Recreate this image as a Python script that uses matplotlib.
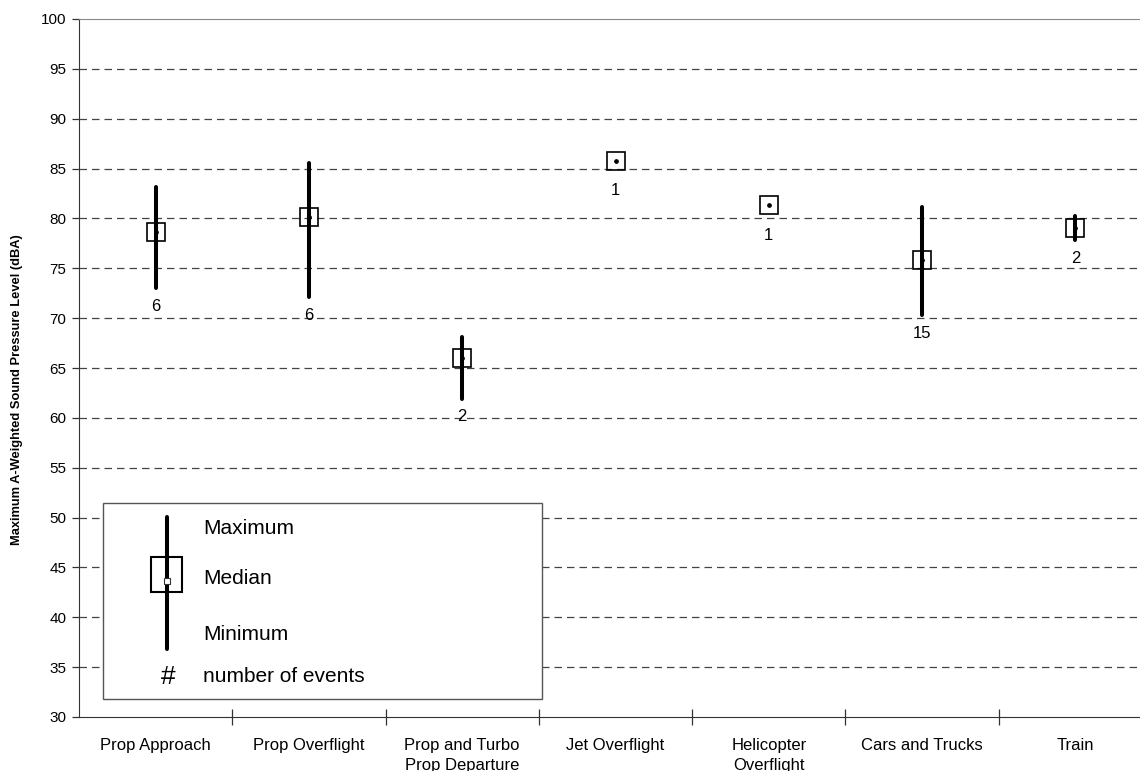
import matplotlib
matplotlib.use("Agg")
import matplotlib.pyplot as plt
from matplotlib.patches import Rectangle
from matplotlib.lines import Line2D

plt.rcParams['font.family'] = ['Liberation Sans', 'DejaVu Sans']

# Noise sources and their maximum A-weighted levels (dBA)
categories = ["Prop Approach", "Prop Overflight", "Prop and Turbo\nProp Departure",
              "Jet Overflight", "Helicopter\nOverflight", "Cars and Trucks", "Train"]
level_max = [83.2, 85.6, 68.1, 85.8, 81.3, 81.1, 80.2]
level_median = [78.6, 80.1, 66.0, 85.8, 81.3, 75.8, 79.0]
level_min = [73.0, 72.1, 61.9, 85.8, 81.3, 70.3, 77.8]
event_counts = [6, 6, 2, 1, 1, 15, 2]
y_ticks = list(range(30, 101, 5))

W, H = 1140, 771
fig = plt.figure(figsize=(W / 100, H / 100), dpi=100)
# plot area runs slightly past the right edge of the canvas
ax = fig.add_axes([79 / W, 1 - 717 / H, (1152 - 79) / W, (717 - 19) / H])

ax.set_xlim(0, len(categories))
ax.set_ylim(30, 100)

# dashed horizontal gridlines
for yv in y_ticks[1:-1]:
    ax.axhline(yv, color='#444444', lw=0.9, dashes=(6, 4), zorder=0)

px_per_unit = ax.transData.transform((0, 1))[1] - ax.transData.transform((0, 0))[1]
xs = [i + 0.5 for i in range(len(categories))]
for x, lo, hi, med, n in zip(xs, level_min, level_max, level_median, event_counts):
    ax.plot([x, x], [lo, hi], color='black', lw=2.9, solid_capstyle='round', zorder=2)
    ax.plot([x], [med], marker='o', ms=2.4, color='black', lw=0, zorder=2)
    ax.plot([x], [med], marker='s', ms=13, mfc='none', mec='black', mew=1.2, zorder=3)
    # count label sits below the whisker or the box, whichever is lower
    off = max(18 + (med - lo) * px_per_unit, 30)
    ax.annotate(str(n), (x, med), xytext=(0, -off), textcoords='offset pixels',
                ha='center', va='center', fontsize=12, zorder=4)

# axes styling
ax.spines['top'].set_color('#8a8a8a')
ax.spines['right'].set_visible(False)
ax.spines['left'].set_color('#333333')
ax.spines['bottom'].set_color('#333333')
ax.set_yticks(y_ticks)
ax.set_yticklabels([str(v) for v in y_ticks], fontsize=11)
ax.tick_params(axis='y', direction='out', length=5, width=0.9, color='#333333', pad=4)
ax.set_xticks(range(1, len(categories)))
ax.set_xticklabels([])
ax.set_xticks(xs, minor=True)
ax.set_xticklabels(categories, minor=True, fontsize=12, linespacing=1.4, va='top')
ax.tick_params(axis='x', which='major', direction='inout', length=11, width=0.9, color='#333333')
ax.tick_params(axis='x', which='minor', length=0, pad=15)

fig.text(17 / W, 1 - 390 / H, "Maximum A-Weighted Sound Pressure Level (dBA)",
         rotation=90, ha='center', va='center', fontsize=9.3, fontweight='bold')

# key explaining the markers
def fx(px):
    return px / W

def fy(py):
    return 1 - py / H

fig.patches.append(Rectangle((fx(103), fy(699)), fx(542) - fx(103), fy(503) - fy(699),
                             transform=fig.transFigure, facecolor='white',
                             edgecolor='#555555', lw=1.0, zorder=5))
fig.lines.append(Line2D([fx(167), fx(167)], [fy(517), fy(649)], transform=fig.transFigure,
                        color='black', lw=2.9, solid_capstyle='round', zorder=6))
fig.patches.append(Rectangle((fx(151), fy(592)), fx(182) - fx(151), fy(557) - fy(592),
                             transform=fig.transFigure, facecolor='none',
                             edgecolor='black', lw=1.5, zorder=7))
fig.lines.append(Line2D([fx(167)], [fy(581)], transform=fig.transFigure, marker='s',
                        ms=4, mfc='white', mec='#333333', mew=0.8, lw=0, zorder=8))
for label, py in [("Maximum", 528), ("Median", 579), ("Minimum", 634), ("number of events", 677)]:
    fig.text(fx(203), fy(py), label, ha='left', va='center', fontsize=15, zorder=9)
fig.text(fx(168), fy(677), "#", ha='center', va='center', fontsize=19, zorder=9)

fig.savefig("out.png", dpi=100)
